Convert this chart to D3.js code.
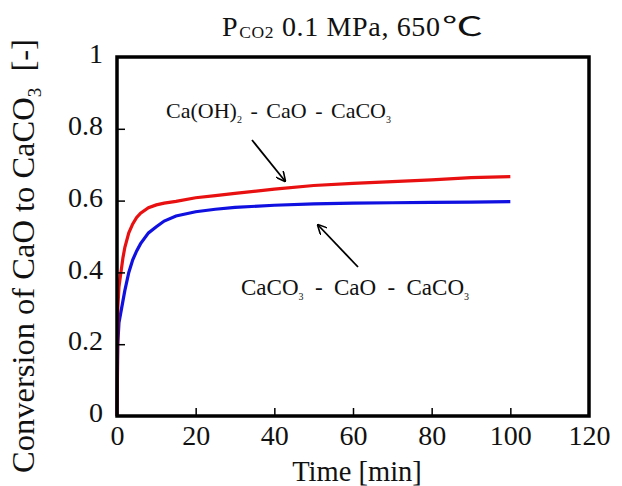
<!DOCTYPE html>
<html><head><meta charset="utf-8">
<script src="https://cdn.jsdelivr.net/npm/d3@7/dist/d3.min.js"></script>
<style>body{margin:0;background:#fff}svg{display:block}</style>
</head><body>
<svg id="c" width="622" height="486"></svg>
<script>
const time = [0, 0.2, 0.5, 1, 1.5, 2, 3, 4, 5, 6, 8, 10, 12, 15, 20, 25, 30, 40, 50, 60, 70, 80, 90, 100];
const hydroxideSeries = [0, 0.30, 0.36, 0.40, 0.44, 0.47, 0.51, 0.535, 0.553, 0.565, 0.58, 0.588, 0.593, 0.598, 0.608, 0.614, 0.62, 0.632, 0.642, 0.648, 0.653, 0.658, 0.664, 0.667];
const carbonateSeries = [0, 0.20, 0.26, 0.29, 0.32, 0.35, 0.40, 0.435, 0.46, 0.48, 0.51, 0.527, 0.543, 0.557, 0.569, 0.576, 0.581, 0.587, 0.591, 0.593, 0.594, 0.595, 0.596, 0.597];
const xTicks = [0, 20, 40, 60, 80, 100, 120];
const yTicks = [0, 0.2, 0.4, 0.6, 0.8, 1];
const yTickLabels = ["0", "0.2", "0.4", "0.6", "0.8", "1"];

const svg = d3.select("#c");
const L = 117, R = 589, T = 57, B = 416;
const x = d3.scaleLinear().domain([0, 120]).range([L, R]);
const y = d3.scaleLinear().domain([0, 1]).range([B, T]);
const serif = "'Liberation Serif','Times New Roman',serif";

// lines
const line = d3.line().x((d, i) => x(time[i])).y(d => y(d));
svg.append("path").datum(carbonateSeries).attr("d", line)
  .attr("fill", "none").attr("stroke", "#1010e0").attr("stroke-width", 3.2);
svg.append("path").datum(hydroxideSeries).attr("d", line)
  .attr("fill", "none").attr("stroke", "#e81010").attr("stroke-width", 3.2);

// axes (ticks inward)
const xAxis = d3.axisBottom(x).tickValues(xTicks).tickSize(-8).tickFormat(d => d);
const gx = svg.append("g").attr("transform", `translate(0,${B})`).call(xAxis);
const yAxis = d3.axisLeft(y).tickValues(yTicks).tickSize(-8).tickFormat((d, i) => yTickLabels[i]);
const gy = svg.append("g").attr("transform", `translate(${L},0)`).call(yAxis);
[gx, gy].forEach(g => {
  g.attr("font-family", serif).attr("font-size", 28);
  g.select(".domain").remove();
  g.selectAll(".tick line").attr("stroke", "#000").attr("stroke-width", 1.5);
  g.selectAll(".tick text").attr("font-family", serif).attr("font-size", 28).attr("fill", "#111");
});
gx.selectAll(".tick").filter(d => d === 0 || d === 120).select("line").remove();
gy.selectAll(".tick").filter(d => d === 0 || d === 1).select("line").remove();
gx.selectAll(".tick text").attr("y", 29).attr("dy", 0);
gy.selectAll(".tick text").attr("x", -14).attr("dy", "0.2em");

// frame
svg.append("rect").attr("x", L).attr("y", T).attr("width", R - L).attr("height", B - T)
  .attr("fill", "none").attr("stroke", "#000").attr("stroke-width", 3.5);

// axis titles
svg.append("text").attr("x", 357).attr("y", 481).attr("text-anchor", "middle")
  .attr("font-family", serif).attr("font-size", 28.5).attr("fill", "#111").text("Time [min]");
const yt = svg.append("text").attr("transform", `translate(34,256) rotate(-90)`)
  .attr("text-anchor", "middle").attr("font-family", serif).attr("font-size", 32.5).attr("fill", "#111");
yt.append("tspan").text("Conversion of CaO to CaCO");
yt.append("tspan").attr("font-size", 19).attr("dy", 7).text("3");
yt.append("tspan").attr("dy", -7).text("\u00a0\u00a0[-]");

// title
const tt = svg.append("text").attr("x", 222).attr("y", 36)
  .attr("font-family", serif).attr("font-size", 28).attr("fill", "#111");
tt.append("tspan").text("P");
tt.append("tspan").attr("font-size", 17.5).attr("dx", 1).attr("dy", 2).text("CO2");
tt.append("tspan").attr("dy", -2).text(" 0.1 MPa, 650");
{
  const w = tt.node().getBBox().width;
  const n = tt.text().length;
  tt.attr("letter-spacing", Math.max(0, (218 - w) / (n - 1)));
}
const deg = svg.append("text").attr("font-family", "'Noto Sans CJK JP','DejaVu Sans',sans-serif")
  .attr("font-size", 26).attr("fill", "#111").text("℃");
const db = deg.node().getBBox();
deg.attr("transform", `translate(442,36) scale(${41 / db.width},1)`);

// annotations
function chem(xp, yp, size, target, parts) {
  const t = svg.append("text").attr("x", xp).attr("y", yp).attr("font-family", serif)
    .attr("font-size", size).attr("fill", "#111");
  parts.forEach(p => {
    if (p.sub) t.append("tspan").attr("font-size", 10).attr("dy", 5).text(p.t);
    else t.append("tspan").attr("dy", p.after ? -5 : 0).text(p.t);
  });
  const w = t.node().getBBox().width;
  t.attr("word-spacing", Math.max(0, (target - w) / 4));
}
chem(166, 118, 22, 225, [{t: "Ca(OH)"}, {t: "2", sub: true}, {t: " - CaO - CaCO", after: true}, {t: "3", sub: true}]);
chem(241, 295, 23, 228, [{t: "CaCO"}, {t: "3", sub: true}, {t: " - CaO - CaCO", after: true}, {t: "3", sub: true}]);

svg.append("defs").append("marker").attr("id", "ah").attr("viewBox", "0 0 10 10")
  .attr("refX", 9).attr("refY", 5).attr("markerWidth", 10).attr("markerHeight", 10)
  .attr("orient", "auto").attr("markerUnits", "userSpaceOnUse")
  .append("path").attr("d", "M0,0 L10,5 L0,10").attr("fill", "none").attr("stroke", "#000").attr("stroke-width", 1.6);
function arrow(x1, y1, x2, y2) {
  svg.append("line").attr("x1", x1).attr("y1", y1).attr("x2", x2).attr("y2", y2)
    .attr("stroke", "#000").attr("stroke-width", 1.8).attr("marker-end", "url(#ah)");
}
arrow(252, 140, 285, 181);
arrow(358, 267, 318, 225);
</script>
</body></html>
